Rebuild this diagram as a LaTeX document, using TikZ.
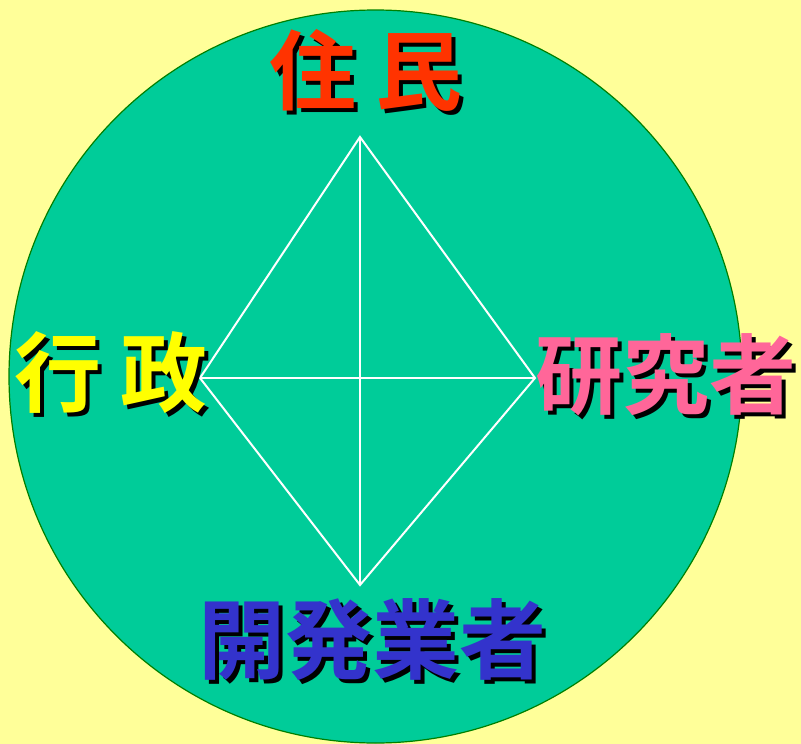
\documentclass[tikz,border=0pt]{standalone}
\usepackage{fontspec}
\newfontfamily\jpfont{Noto Sans CJK JP Bold}
\definecolor{bgyellow}{HTML}{FFFF99}
\definecolor{disc}{HTML}{00CC99}
\definecolor{discline}{HTML}{008000}
\definecolor{tred}{HTML}{FF3300}
\definecolor{tyellow}{HTML}{FFFF00}
\definecolor{tpink}{HTML}{FF6699}
\definecolor{tblue}{HTML}{3333CC}
\begin{document}
\begin{tikzpicture}[x=1pt,y=-1pt,
  lbl/.style={font=\jpfont\fontsize{87}{87}\selectfont, inner sep=0pt, anchor=center},
  shadowtxt/.style={lbl, text=black},
  edge/.style={draw=white, line width=2pt}]
\fill[bgyellow] (0,0) rectangle (801,744);
\useasboundingbox (0,0) rectangle (801,744);
\begin{scope}
\clip (0,0) rectangle (801,744);
\filldraw[fill=disc, draw=discline, line width=1.2pt] (375.5,376.5) circle (366.5);
\end{scope}
% diamond
\coordinate (T) at (360,137);
\coordinate (B) at (360,585);
\coordinate (L) at (200,378);
\coordinate (R) at (535,378);
\draw[edge] (T) -- (R) -- (B) -- (L) -- cycle;
\draw[edge] (T) -- (B);
\draw[edge] (L) -- (R);
% labels with shadows
\node[shadowtxt] (jumins) at (370,74) {住 民};
\node[lbl, text=tred] (jumin) at (366,70) {住 民};
\node[shadowtxt] (gyoseis) at (115,377) {行 政};
\node[lbl, text=tyellow] (gyosei) at (111,373) {行 政};
\node[shadowtxt] (kenkyus) at (670,379) {研究者};
\node[lbl, text=tpink] (kenkyu) at (666,375) {研究者};
\node[shadowtxt] (kaihatsus) at (376,644) {開発業者};
\node[lbl, text=tblue] (kaihatsu) at (372,640) {開発業者};
\end{tikzpicture}
\end{document}
